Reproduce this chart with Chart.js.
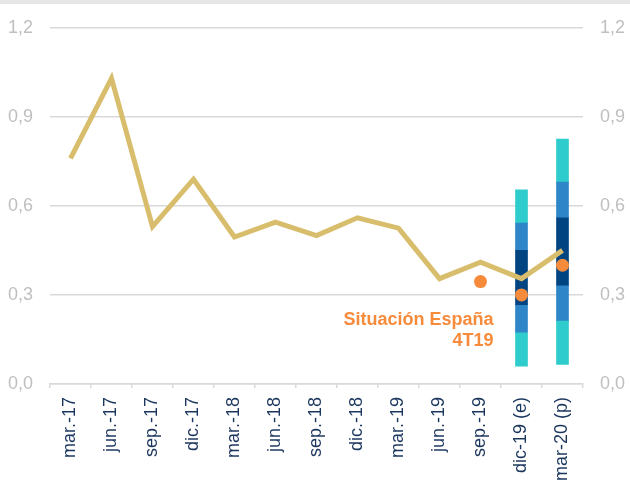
<!DOCTYPE html>
<html>
<head>
<meta charset="utf-8">
<script src="https://cdn.jsdelivr.net/npm/chart.js@4/dist/chart.umd.min.js"></script>
<style>
  html, body { margin: 0; padding: 0; background: #fff; }
  #wrap { position: relative; width: 630px; height: 486px; }
  #topbar { position: absolute; left: 0; top: 0; width: 630px; height: 4px; background: #e6e6e6; }
</style>
</head>
<body>
<div id="wrap">
  <div id="topbar"></div>
  <canvas id="chart" width="630" height="486"></canvas>
</div>
<script>
var labels = ['mar.-17', 'jun.-17', 'sep.-17', 'dic.-17', 'mar.-18', 'jun.-18', 'sep.-18',
  'dic.-18', 'mar.-19', 'jun.-19', 'sep.-19', 'dic-19 (e)', 'mar-20 (p)'];

// serie observada
var lineValues = [0.76, 1.03, 0.53, 0.69, 0.495, 0.545, 0.50, 0.56, 0.525, 0.355, 0.41, 0.355, 0.45];

// Situación España 4T19
var dotValues = [null, null, null, null, null, null, null, null, null, null, 0.345, 0.30, 0.40];

// intervalos de confianza (de abajo hacia arriba) para dic-19 y mar-20
var bandsDic19 = [0.06, 0.172, 0.265, 0.45, 0.542, 0.654];
var bandsMar20 = [0.066, 0.212, 0.331, 0.56, 0.68, 0.825];

var yTicks = [0, 0.3, 0.6, 0.9, 1.2];

var bandColors = ['#2ecccc', '#2e86c9', '#004481', '#2e86c9', '#2ecccc'];

var datasets = [];

// las bandas se pintan como barras flotantes superpuestas
for (var i = 0; i < 5; i++) {
  var d = labels.map(function () { return null; });
  d[11] = [bandsDic19[i], bandsDic19[i + 1]];
  d[12] = [bandsMar20[i], bandsMar20[i + 1]];
  datasets.push({
    type: 'bar',
    data: d,
    backgroundColor: bandColors[i],
    borderWidth: 0,
    barThickness: 12,
    grouped: false,
    yAxisID: 'y',
    order: 3
  });
}

datasets.push({
  type: 'line',
  data: lineValues,
  borderColor: '#d8be6c',
  borderWidth: 5,
  pointRadius: 0,
  tension: 0,
  fill: false,
  yAxisID: 'y',
  order: 2
});

datasets.push({
  type: 'line',
  data: dotValues,
  showLine: false,
  pointRadius: 6.5,
  pointBackgroundColor: '#f78b3c',
  pointBorderWidth: 0,
  yAxisID: 'y',
  order: 1
});

var fmt = function (v) { return v.toFixed(1).replace('.', ','); };
var FONT = '"Liberation Sans", Arial, sans-serif';

var notePlugin = {
  id: 'note',
  afterDatasetsDraw: function (chart) {
    var ctx = chart.ctx;
    var x = chart.scales.x.getPixelForValue(10) + 13;
    var y = chart.scales.y.getPixelForValue(0.3);
    ctx.save();
    ctx.fillStyle = '#f78b3c';
    ctx.font = 'bold 18px ' + FONT;
    ctx.textAlign = 'right';
    ctx.textBaseline = 'middle';
    ctx.fillText('Situación España', x, y + 25);
    ctx.fillText('4T19', x, y + 46);
    ctx.restore();
  }
};

new Chart(document.getElementById('chart'), {
  data: {
    labels: labels,
    datasets: datasets
  },
  options: {
    responsive: false,
    animation: false,
    layout: { padding: { top: 22, left: 0, right: 0, bottom: 0 } },
    plugins: {
      legend: { display: false },
      tooltip: { enabled: false }
    },
    scales: {
      x: {
        offset: true,
        grid: {
          offset: true,
          drawOnChartArea: false,
          color: '#d9d9d9',
          tickLength: 4,
          lineWidth: 1.5
        },
        border: { color: '#d9d9d9', width: 1.5 },
        ticks: {
          color: '#1b365d',
          font: { family: FONT, size: 18 },
          minRotation: 90,
          maxRotation: 90,
          autoSkip: false,
          padding: 9
        },
        afterFit: function (s) { s.height = 102; }
      },
      y: {
        position: 'left',
        min: 0,
        max: 1.2,
        afterBuildTicks: function (s) { s.ticks = yTicks.map(function (v) { return { value: v }; }); },
        grid: { color: '#d9d9d9', lineWidth: 1.5, drawTicks: false },
        border: { display: false },
        ticks: {
          color: '#bfbfbf',
          font: { family: FONT, size: 18 },
          padding: 17,
          callback: fmt
        },
        afterFit: function (s) { s.width = 50; }
      },
      y2: {
        position: 'right',
        min: 0,
        max: 1.2,
        afterBuildTicks: function (s) { s.ticks = yTicks.map(function (v) { return { value: v }; }); },
        grid: { drawOnChartArea: false, drawTicks: false },
        border: { display: false },
        ticks: {
          color: '#bfbfbf',
          font: { family: FONT, size: 18 },
          padding: 17,
          callback: fmt
        },
        afterFit: function (s) { s.width = 47; }
      }
    }
  },
  plugins: [notePlugin]
});
</script>
</body>
</html>
